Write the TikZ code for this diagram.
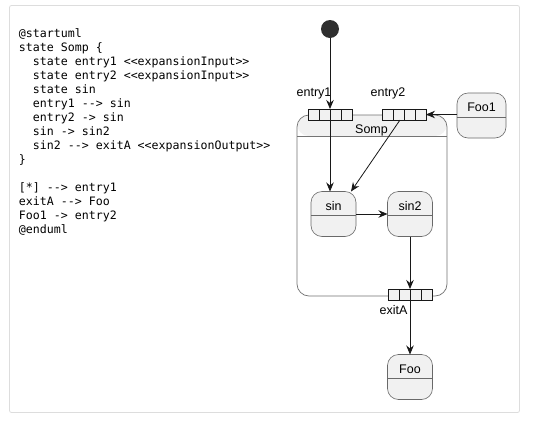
\documentclass[tikz,border=0pt]{standalone}
\usepackage{fontspec}
\setmainfont{Liberation Sans}
\newfontfamily\codefont{DejaVu Sans Mono}
\usetikzlibrary{arrows.meta}
\definecolor{stfill}{HTML}{F1F1F1}
\definecolor{stline}{HTML}{181818}
\definecolor{frameline}{HTML}{DDDDDD}
\begin{document}
\begin{tikzpicture}[x=1pt,y=-1pt,
  every node/.style={inner sep=0pt, outer sep=0pt},
  code/.style={font=\codefont\fontsize{11.6}{14}\selectfont, anchor=base west, text=black},
  lab/.style={font=\fontsize{12.5}{14}\selectfont, anchor=base, text=black},
  statebox/.style={draw=stline!65, line width=0.6pt, fill=stfill, rounded corners=11pt,
    minimum width=45pt, minimum height=45pt,
    path picture={\draw[stline!65, line width=0.6pt]
      ([yshift=-24pt]path picture bounding box.north west) --
      ([yshift=-24pt]path picture bounding box.north east);}},
  composite/.style={draw=stline!60, line width=0.7pt, rounded corners=12pt,
    minimum width=150pt, minimum height=181pt,
    path picture={\fill[stfill] (path picture bounding box.north west) rectangle
      ([yshift=-21pt]path picture bounding box.north east);
      \draw[stline!60, line width=0.6pt]
      ([yshift=-21pt]path picture bounding box.north west) --
      ([yshift=-21pt]path picture bounding box.north east);}},
  portbox/.style={draw=stline, line width=0.9pt, fill=stfill,
    minimum width=44pt, minimum height=11pt,
    path picture={\foreach \k in {11,22,33}{\draw[stline, line width=0.9pt]
      ([xshift=\k pt]path picture bounding box.south west) --
      ([xshift=\k pt]path picture bounding box.north west);}}},
  conn/.style={draw=stline, line width=0.8pt, -{Stealth[length=9pt,width=7.5pt,inset=3pt]}}
]
\useasboundingbox (0,0) rectangle (542,421);
\fill[white] (0,0) rectangle (542,421);
\draw[frameline, line width=0.8pt, rounded corners=2pt] (9.5,5.5) rectangle (519.5,412.5);

% code
\node[code] (c0) at (19,37) {@startuml};
\node[code] (c1) at (19,51) {state Somp \{};
\node[code] (c2) at (33,65) {state entry1 <{}<expansionInput>{}>};
\node[code] (c3) at (33,79) {state entry2 <{}<expansionInput>{}>};
\node[code] (c4) at (33,93) {state sin};
\node[code] (c5) at (33,107) {entry1 -{}-> sin};
\node[code] (c6) at (33,121) {entry2 -> sin};
\node[code] (c7) at (33,135) {sin -> sin2};
\node[code] (c8) at (33,149) {sin2 -{}-> exitA <{}<expansionOutput>{}>};
\node[code] (c9) at (19,163) {\}};
\node[code] (c11) at (19,191) {[*] -{}-> entry1};
\node[code] (c12) at (19,205) {exitA -{}-> Foo};
\node[code] (c13) at (19,219) {Foo1 -> entry2};
\node[code] (c14) at (19,233) {@enduml};

% composite
\node[composite] (somp) at (372,205.5) {};
\node[lab] (sompT) at (371.5,133) {Somp};

% states
\node[statebox, minimum width=49pt] (foo1) at (481.5,115.5) {};
\node[lab] (foo1T) at (481.5,111) {Foo1};
\node[statebox] (sin) at (333.5,214) {};
\node[lab] (sinT) at (333.5,210) {sin};
\node[statebox] (sin2) at (410,214) {};
\node[lab] (sin2T) at (410,210) {sin2};
\node[statebox] (foo) at (410,377) {};
\node[lab] (fooT) at (410,373) {Foo};

% start
\node[circle, fill=stline!90, minimum size=18pt] (start) at (330,29) {};

% ports
\node[portbox] (e1) at (330,114.5) {};
\node[lab] (e1T) at (314,96) {entry1};
\node[portbox] (e2) at (404,114.5) {};
\node[lab] (e2T) at (388,96) {entry2};
\node[portbox] (xa) at (410,294.5) {};
\node[lab] (xaT) at (393.5,314) {exitA};

% connectors
\draw[conn] (start.south) -- (e1.north);
\draw[conn] (e1.south) -- (e1.south |- sin.north);
\draw[conn] ([xshift=-4pt]e2.south) -- ([xshift=-5pt]sin.north east);
\draw[conn] (foo1.west |- e2.east) -- (e2.east);
\draw[conn] (sin.east) -- (sin2.west);
\draw[conn] (sin2.south) -- (xa.north);
\draw[conn] (xa.south) -- (foo.north);
\end{tikzpicture}
\end{document}
